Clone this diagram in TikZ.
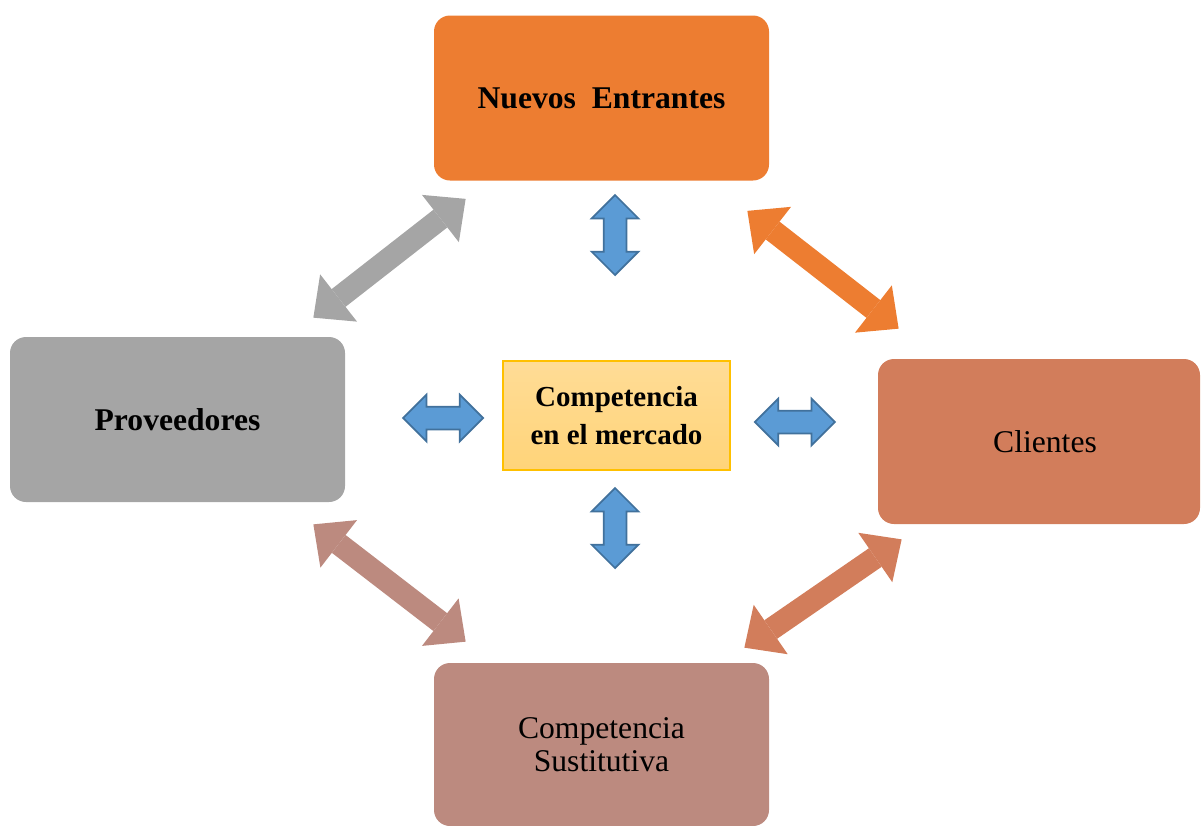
\documentclass[tikz,border=0pt]{standalone}
\usepackage{fontspec}
\setmainfont{Liberation Serif}
\usetikzlibrary{
    shapes.arrows,
    arrows.meta,
    positioning,
    calc
}

\definecolor{neorange}{HTML}{ED7D31}
\definecolor{provgray}{HTML}{A5A5A5}
\definecolor{clisalmon}{HTML}{D27D5B}
\definecolor{sustrose}{HTML}{BC8A7F}
\definecolor{arrowblue}{HTML}{5B9BD5}
\definecolor{arrowedge}{HTML}{41719C}
\definecolor{centertop}{HTML}{FFDC96}
\definecolor{centerbot}{HTML}{FFD479}
\definecolor{centeredge}{HTML}{FFC000}

\tikzset{
    force/.style={rounded corners=0.32cm, minimum width=6.7cm, minimum height=3.3cm, align=center, text=black, font=\fontsize{18}{18.5}\selectfont},
    forcebold/.style={force, font=\fontsize{18}{18.5}\selectfont\bfseries},
    bluearrow/.style={double arrow, fill=arrowblue, draw=arrowedge, line width=1pt, minimum height=1.6cm, inner xsep=0pt, inner ysep=0.21cm, double arrow head extend=0.24cm},
    bigarrow/.style={line width=0.45cm, {Triangle[width=1.2cm 0, length=0.64cm 0, line width=0pt 0]}-{Triangle[width=1.2cm 0, length=0.64cm 0, line width=0pt 0]}}
}

\begin{document}
\begin{tikzpicture}
        \useasboundingbox (0,0) rectangle (24.02,-16.5);

        % Forces
        \node[forcebold, fill=neorange] (entrantes) at (12.03,-1.96) {Nuevos\ \ Entrantes};
        \node[forcebold, fill=provgray] (prov) at (3.55,-8.39) {Proveedores};
        \node[force, fill=clisalmon, minimum width=6.44cm] (clientes) at (20.78,-8.83) {\hspace{0.24cm}Clientes};
        \node[force, fill=sustrose, minimum height=3.26cm] (sust) at (12.03,-14.89) {Competencia\\Sustitutiva};

        % Centre
        \node[top color=centertop, bottom color=centerbot, draw=centeredge, line width=0.8pt, minimum width=4.54cm, minimum height=2.18cm, align=center, font=\fontsize{16.5}{22}\selectfont\bfseries] (centre) at (12.33,-8.31) {Competencia\\en el mercado};

        % Blue arrows round the centre
        \node[bluearrow, rotate=90] (uparrow) at (12.3,-4.7) {};
        \node[bluearrow, rotate=90] (downarrow) at (12.3,-10.56) {};
        \node[bluearrow, left=0.36cm of centre, yshift=-0.05cm] (leftarrow) {};
        \node[bluearrow, right=0.46cm of centre, yshift=-0.13cm] (rightarrow) {};

        % Arrows between the forces
        \draw[bigarrow, color=provgray] ([shift={(0.64,-0.36)}]entrantes.south west) -- ([shift={(-0.64,0.38)}]prov.north east);
        \draw[bigarrow, color=neorange] ([shift={(-0.44,-0.6)}]entrantes.south east) -- ([shift={(0.42,0.6)}]clientes.north west);
        \draw[bigarrow, color=clisalmon] ([shift={(0.48,-0.3)}]clientes.south west) -- ([shift={(-0.5,0.3)}]sust.north east);
        \draw[bigarrow, color=sustrose] ([shift={(-0.64,-0.44)}]prov.south east) -- ([shift={(0.64,0.42)}]sust.north west);
    \end{tikzpicture}
\end{document}
